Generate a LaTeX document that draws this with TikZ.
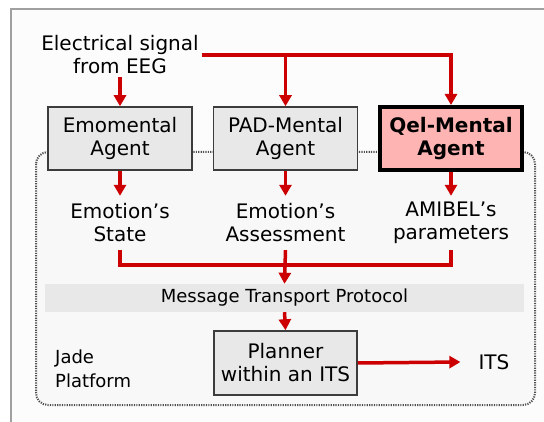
\documentclass[tikz,border=0pt]{standalone}
\usepackage{fontspec}
\setmainfont{DejaVu Sans}
\usetikzlibrary{arrows.meta}
\definecolor{sigred}{RGB}{204,0,0}
\definecolor{boxgray}{RGB}{232,232,232}
\definecolor{boxline}{RGB}{60,60,60}
\definecolor{qelpink}{RGB}{255,180,180}
\definecolor{framegray}{RGB}{160,160,160}
\definecolor{platfill}{RGB}{248,248,248}
\definecolor{dotgray}{RGB}{80,80,80}
\tikzset{
  bigfont/.style={font=\fontsize{20}{23}\selectfont},
  smallfont/.style={font=\fontsize{18}{24}\selectfont},
  agentbox/.style={draw=boxline, line width=1.5pt, fill=boxgray, minimum width=144pt, minimum height=63pt, inner sep=0pt, align=center, bigfont},
  qelbox/.style={draw=black, line width=4pt, fill=qelpink, minimum width=142pt, minimum height=63pt, inner sep=0pt, align=center, font=\fontsize{20}{23}\selectfont\bfseries},
  outtext/.style={inner sep=0pt, minimum height=54pt, align=center, bigfont},
  sig/.style={draw=sigred, line width=3.5pt},
  sigarrow/.style={sig, -{Triangle[length=11pt,width=12pt]}},
  platform/.style={draw=dotgray, line width=2pt, dash pattern=on 1.2pt off 1.2pt, fill=platfill, rounded corners=12pt},
}
\begin{document}
\begin{tikzpicture}[x=1pt,y=-1pt]
\useasboundingbox (0,0) rectangle (544,422);
\fill[white] (0,0) rectangle (544,422);
\fill[white!99!black] (11,9) rectangle (544,422);
\draw[framegray, line width=2pt] (11,422) -- (11,9) -- (544,9);

% platform region
\draw[platform] (36,152) rectangle (535,405);

% source text
\node[bigfont, align=center, inner xsep=3pt, inner ysep=0pt, minimum height=44pt] (eeg) at (120,55) {Electrical signal\\from EEG};

% agents
\node[agentbox] (emo) at (120,138.5) {Emomental\\Agent};
\node[agentbox] (pad) at (285.5,138.5) {PAD-Mental\\Agent};
\node[qelbox] (qel) at (451,138.5) {Qel-Mental\\Agent};

% outputs
\node[outtext] (state) at (120,223) {Emotion’s\\State};
\node[outtext] (assess) at (285.5,223) {Emotion’s\\Assessment};
\node[outtext] (params) at (451,223) {AMIBEL’s\\parameters};

% message transport
\node[fill=boxgray, minimum width=479pt, minimum height=28pt, inner sep=0pt, smallfont] (mtp) at (284.5,298) {Message Transport Protocol};

% planner
\node[agentbox, minimum width=143pt, minimum height=64pt] (plan) at (285.5,363) {Planner\\within an ITS};
\node[bigfont, inner sep=0pt] (its) at (494,362) {ITS};
\node[smallfont, align=left, inner sep=0pt, anchor=west] (jade) at (55,369) {Jade\\Platform};

% connectors
\coordinate (jtop) at (pad.north |- eeg.east);
\coordinate (jbot) at (285.5,265);
\draw[sigarrow] (eeg) -- (emo);
\draw[sigarrow] (eeg.east) -| (qel.north);
\draw[sigarrow] (jtop) -- (pad.north);
\draw[sigarrow] (emo) -- (state);
\draw[sigarrow] (pad) -- (assess);
\draw[sigarrow] (qel.south) -- (params);
\draw[sig] (state.south) |- (jbot);
\draw[sig] (params.south) |- (jbot);
\draw[sigarrow] (assess.south) -- (mtp.north);
\draw[sigarrow] (mtp.south) -- (plan.north);
\draw[sigarrow] (plan.east) -- ([xshift=-18pt]its.west);
\end{tikzpicture}
\end{document}
